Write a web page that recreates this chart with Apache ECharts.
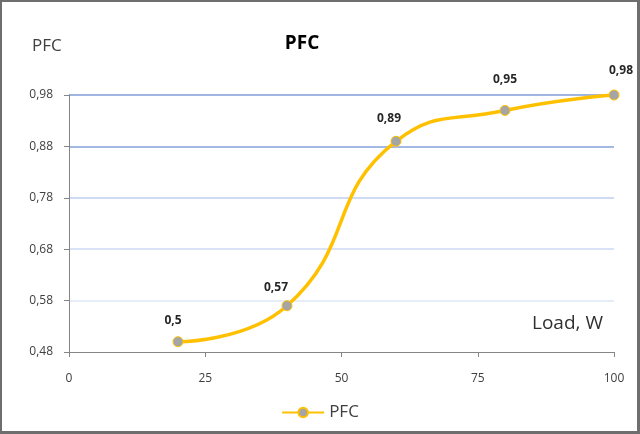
<!DOCTYPE html>
<html>
<head>
<meta charset="utf-8">
<script src="https://cdn.jsdelivr.net/npm/echarts@6/dist/echarts.min.js"></script>
<style>
html,body{margin:0;padding:0;background:#fff;}
#wrap{position:relative;width:640px;height:434px;}
#chart{position:absolute;left:0;top:0;width:640px;height:434px;}
#frame{position:absolute;left:0;top:0;width:640px;height:434px;box-sizing:border-box;border-style:solid;border-color:#6e6e6e;border-width:2px 3px 3px 2px;pointer-events:none;}
</style>
</head>
<body>
<div id="wrap"><div id="chart"></div><div id="frame"></div></div>
<script>
// Data
const loads = [20, 40, 60, 80, 100];
const pfc = [0.5, 0.57, 0.89, 0.95, 0.98];
const xTicks = [0, 25, 50, 75, 100];
const yTicks = [0.48, 0.58, 0.68, 0.78, 0.88, 0.98];
const seriesName = 'PFC';
const titleText = 'PFC';
const yAxisName = 'PFC';
const xAxisName = 'Load, W';

// layout-only: label offsets per point
const labelOffsets = [[-5, 2], [-11, 5], [-7, 1], [0, -7], [7, -1]];

const yBase = yTicks[0];
const yStep = +(yTicks[1] - yTicks[0]).toFixed(2);
const fmt = v => v.toString().replace('.', ',');

const data = loads.map((x, i) => ({
  value: [x, pfc[i] - yBase],
  label: { offset: labelOffsets[i] }
}));

const font = "'Open Sans', 'Liberation Sans', sans-serif";
const chart = echarts.init(document.getElementById('chart'), null, {renderer: 'canvas'});
chart.setOption({
  animation: false,
  backgroundColor: '#ffffff',
  textStyle: { fontFamily: font },
  title: {
    text: titleText,
    left: 297, top: 29,
    textAlign: 'center',
    textStyle: { fontFamily: font, fontWeight: 'bold', fontSize: 19, color: '#000' }
  },
  grid: { left: 69, right: 26, top: 95, bottom: 82 },
  legend: {
    bottom: 8, left: 'center',
    itemWidth: 42, itemHeight: 12,
    textStyle: { fontFamily: font, fontSize: 17, color: '#404040' },
    data: [seriesName]
  },
  xAxis: {
    type: 'value',
    min: xTicks[0], max: xTicks[xTicks.length - 1], interval: xTicks[1] - xTicks[0],
    axisLine: { lineStyle: { color: '#868686', width: 1 } },
    axisTick: { show: true, length: 5, lineStyle: { color: '#868686' } },
    splitLine: { show: false },
    axisLabel: { margin: 21, fontSize: 12, color: '#404040', fontFamily: font }
  },
  yAxis: {
    type: 'value',
    min: 0, max: +(yTicks[yTicks.length - 1] - yBase).toFixed(2), interval: yStep,
    axisLine: { show: true, lineStyle: { color: '#868686', width: 1 } },
    axisTick: { show: true, length: 5, lineStyle: { color: '#868686' } },
    axisLabel: {
      margin: 16, fontSize: 12, color: '#404040', fontFamily: font,
      formatter: v => fmt((v + yBase).toFixed(2))
    },
    splitLine: {
      show: true,
      lineStyle: { width: 2, color: ['#ffffff', '#e6ecf8', '#d9e3f5', '#cfdbf2', '#a3b9e4', '#9fb6e3'] }
    }
  },
  graphic: [
    { type: 'text', left: 32, top: 38, style: { text: yAxisName, font: "17px " + font, fill: '#404040' } },
    { type: 'text', left: 532, top: 314, style: { text: xAxisName, font: "19px " + font, fill: '#303030' } }
  ],
  series: [{
    name: seriesName,
    type: 'line',
    smooth: 0.5,
    data: data,
    symbol: 'circle',
    symbolSize: 10,
    lineStyle: { color: '#FFC000', width: 3.5 },
    itemStyle: { color: '#A5A5A5', borderColor: '#FFC000', borderWidth: 1 },
    label: {
      show: true, position: 'top', distance: 12,
      fontSize: 12, fontWeight: 'bold', color: '#262626', fontFamily: font,
      formatter: p => fmt(pfc[p.dataIndex])
    }
  }]
});
</script>
</body>
</html>
